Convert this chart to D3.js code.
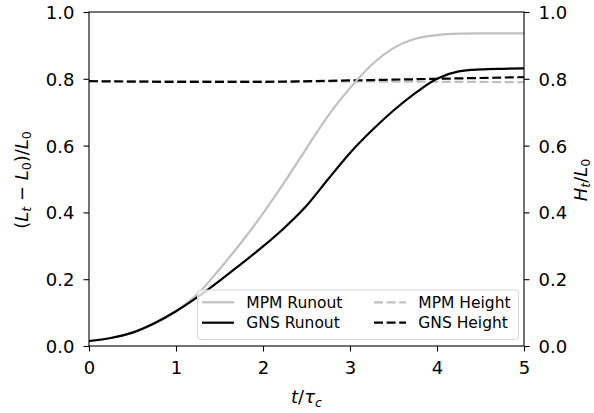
<!DOCTYPE html>
<html>
<head>
<meta charset="utf-8">
<script src="https://cdn.jsdelivr.net/npm/d3@7"></script>
<style>
  body { margin: 0; background: #fff; }
  svg { display: block; font-family: "DejaVu Sans", sans-serif; }
</style>
</head>
<body>
<script>
// time axis samples (t / tau_c)
var times = [0, 0.25, 0.5, 0.75, 1, 1.25, 1.5, 1.75, 2, 2.25, 2.5, 2.75, 3, 3.25, 3.5, 3.75, 4, 4.25, 4.5, 4.75, 5];
var mpmRunout = [0.015, 0.024, 0.040, 0.066, 0.104, 0.156, 0.230, 0.310, 0.397, 0.492, 0.592, 0.690, 0.772, 0.842, 0.892, 0.920, 0.931, 0.935, 0.936, 0.936, 0.936];
var gnsRunout = [0.015, 0.024, 0.040, 0.068, 0.104, 0.147, 0.195, 0.246, 0.298, 0.355, 0.420, 0.500, 0.578, 0.645, 0.705, 0.757, 0.800, 0.822, 0.828, 0.830, 0.831];
var heightTimes = [0, 1, 2, 3, 4, 5];
var mpmHeight = [0.793, 0.793, 0.792, 0.792, 0.791, 0.790];
var gnsHeight = [0.793, 0.791, 0.791, 0.795, 0.800, 0.805];
var xTicks = [0, 1, 2, 3, 4, 5];
var yTicks = [0, 0.2, 0.4, 0.6, 0.8, 1.0];
var legendNames = ['MPM Runout', 'GNS Runout', 'MPM Height', 'GNS Height'];

var width = 594;
var height = 413;
// plot box (window.top is reserved, so prefix these)
var boxLeft = 89, boxRight = 524, boxTop = 12, boxBottom = 346;
var grey = '#c0c0c0';
var dash = '9,3.6';

var x = d3.scaleLinear().domain([0, 5]).range([boxLeft, boxRight]);
var y = d3.scaleLinear().domain([0, 1]).range([boxBottom, boxTop]);
var y2 = d3.scaleLinear().domain([0, 1]).range([boxBottom, boxTop]);

var svg = d3.select('body').append('svg')
  .attr('width', width)
  .attr('height', height);

function series(ts, vs, scale) {
  return ts.map(function(t, i) { return [x(t), scale(vs[i])]; });
}

var line = d3.line().curve(d3.curveMonotoneX);

var plot = svg.append('g');

plot.append('path')
  .attr('d', line(series(heightTimes, mpmHeight, y2)))
  .attr('fill', 'none').attr('stroke', grey).attr('stroke-width', 2.2)
  .attr('stroke-dasharray', dash);
plot.append('path')
  .attr('d', line(series(heightTimes, gnsHeight, y2)))
  .attr('fill', 'none').attr('stroke', '#000').attr('stroke-width', 2.2)
  .attr('stroke-dasharray', dash);
plot.append('path')
  .attr('d', line(series(times, mpmRunout, y)))
  .attr('fill', 'none').attr('stroke', grey).attr('stroke-width', 2.2);
plot.append('path')
  .attr('d', line(series(times, gnsRunout, y)))
  .attr('fill', 'none').attr('stroke', '#000').attr('stroke-width', 2.2);

// axes
var fmt = d3.format('.1f');

function styleAxis(g) {
  g.attr('font-family', null).attr('font-size', null);
  g.select('.domain').remove();
  g.selectAll('.tick line').attr('stroke', '#000').attr('stroke-width', 1.1);
  g.selectAll('.tick text').attr('fill', '#000').style('font-size', '18px');
}

svg.append('g')
  .attr('transform', 'translate(0,' + boxBottom + ')')
  .call(d3.axisBottom(x).tickValues(xTicks).tickFormat(d3.format('d'))
    .tickSize(5.5).tickPadding(10.2).tickSizeOuter(0))
  .call(styleAxis);

svg.append('g')
  .attr('transform', 'translate(' + boxLeft + ',0)')
  .call(d3.axisLeft(y).tickValues(yTicks).tickFormat(fmt)
    .tickSize(5.5).tickPadding(9).tickSizeOuter(0))
  .call(styleAxis)
  .selectAll('.tick text').attr('dy', '0.36em');

svg.append('g')
  .attr('transform', 'translate(' + boxRight + ',0)')
  .call(d3.axisRight(y2).tickValues(yTicks).tickFormat(fmt)
    .tickSize(5.5).tickPadding(9).tickSizeOuter(0))
  .call(styleAxis)
  .selectAll('.tick text').attr('dy', '0.36em');

// frame
svg.append('rect')
  .attr('x', boxLeft).attr('y', boxTop)
  .attr('width', boxRight - boxLeft).attr('height', boxBottom - boxTop)
  .attr('fill', 'none').attr('stroke', '#000').attr('stroke-width', 1.1);

// legend
var legend = svg.append('g');
legend.append('rect')
  .attr('x', 197.5).attr('y', 290)
  .attr('width', 321).attr('height', 49.5)
  .attr('rx', 3)
  .attr('fill', 'rgba(255,255,255,0.8)')
  .attr('stroke', '#d6d6d6').attr('stroke-width', 1);

var legendColors = [grey, '#000', grey, '#000'];
var legendDashed = [false, false, true, true];
legendNames.forEach(function(name, i) {
  var col = Math.floor(i / 2);
  var row = i % 2;
  var lx = col === 0 ? 202 : 374;
  var ly = 302.3 + row * 20.4;
  legend.append('line')
    .attr('x1', lx).attr('x2', lx + 32)
    .attr('y1', ly).attr('y2', ly)
    .attr('stroke', legendColors[i]).attr('stroke-width', 2.2)
    .attr('stroke-dasharray', legendDashed[i] ? dash : null);
  legend.append('text')
    .attr('x', lx + 44.3).attr('y', ly)
    .attr('dy', '0.36em')
    .style('font-size', '15.5px')
    .text(name);
});

// axis labels (mathtext-like)
function mathLabel(g, parts) {
  var t = g.append('text').attr('text-anchor', 'middle').style('font-size', '18px');
  parts.forEach(function(p) {
    var s = t.append('tspan').text(p.s);
    if (p.i) s.style('font-style', 'italic');
    if (p.sub) {
      s.style('font-size', '12.6px').attr('dy', '3.5');
    } else if (p.back) {
      s.attr('dy', '-3.5');
    }
  });
  return t;
}

mathLabel(svg.append('g').attr('transform', 'translate(306.5,403)'), [
  { s: 't', i: true }, { s: '/' }, { s: 'τ', i: true }, { s: 'c', i: true, sub: true }
]);

mathLabel(svg.append('g').attr('transform', 'translate(27.5,180) rotate(-90)'), [
  { s: '(' }, { s: 'L', i: true }, { s: 't', i: true, sub: true },
  { s: ' − ', back: true }, { s: 'L', i: true }, { s: '0', sub: true },
  { s: ')/', back: true }, { s: 'L', i: true }, { s: '0', sub: true }
]);

mathLabel(svg.append('g').attr('transform', 'translate(586.5,180) rotate(-90)'), [
  { s: 'H', i: true }, { s: 't', i: true, sub: true },
  { s: '/', back: true }, { s: 'L', i: true }, { s: '0', sub: true }
]);
</script>
</body>
</html>
